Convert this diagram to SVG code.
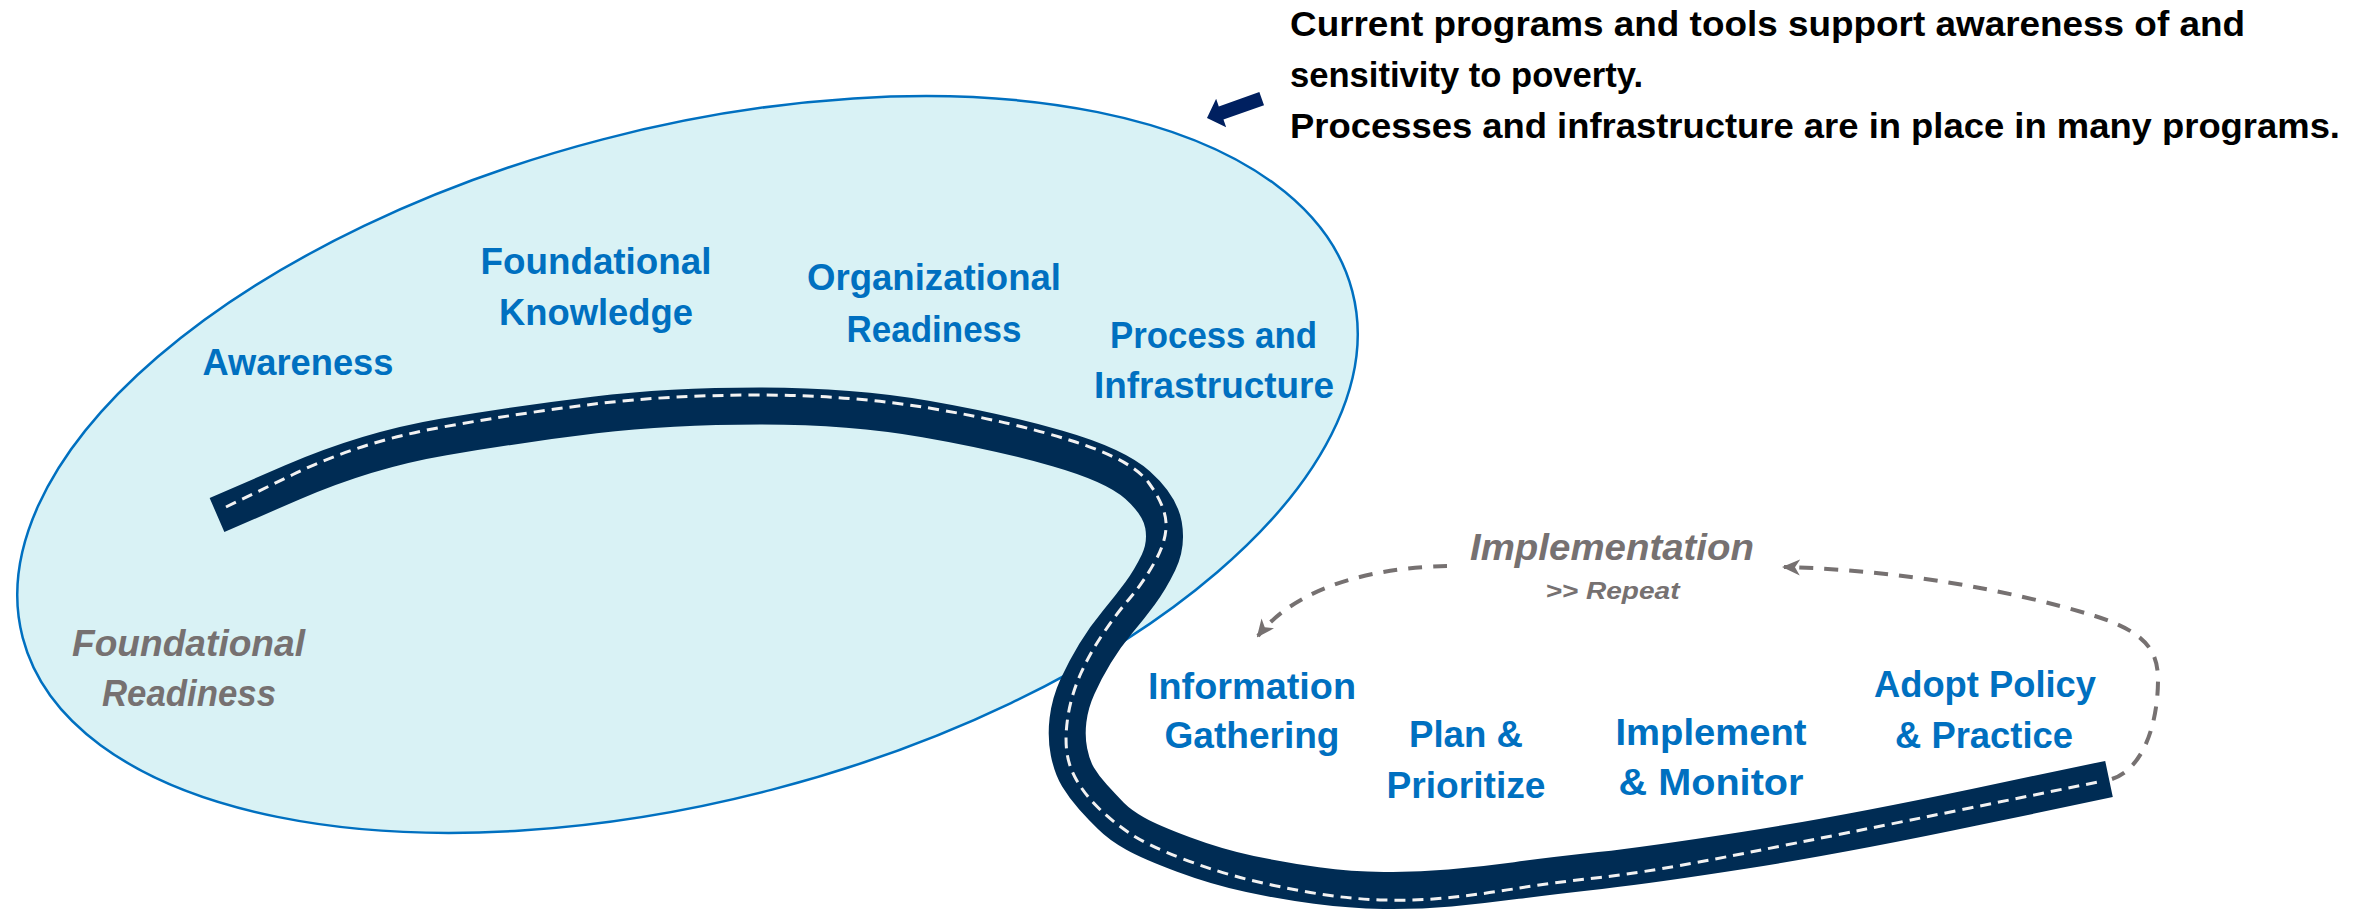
<svg xmlns="http://www.w3.org/2000/svg" width="2369" height="912" viewBox="0 0 2369 912">
<style>
.lbl{font-family:"Liberation Sans",Arial,sans-serif;font-weight:bold;font-size:36px;fill:#0070C0;text-anchor:middle}
.gry{font-family:"Liberation Sans",Arial,sans-serif;font-weight:bold;font-style:italic;font-size:36px;fill:#767171;text-anchor:middle}
.note{font-family:"Liberation Sans",Arial,sans-serif;font-weight:bold;font-size:35px;fill:#000000}
.loop{fill:none;stroke:#767171;stroke-width:4;stroke-dasharray:14 11}
</style>
<defs>
<marker id="ah" viewBox="0 0 18 18" refX="16" refY="9" markerWidth="18" markerHeight="18" markerUnits="userSpaceOnUse" orient="auto">
<path d="M0,1 L18,9 L0,17 L5,9 z" fill="#767171"/>
</marker>
</defs>
<rect width="2369" height="912" fill="#FFFFFF"/>

<g id="foundational-readiness-zone">
<ellipse cx="687.5" cy="464.5" rx="687" ry="336" transform="rotate(-14.6 687.5 464.5)" fill="#D9F2F5" stroke="#0070C0" stroke-width="2.5"/>
</g>

<g id="road">
<path d="M217,515 L292,482.5 Q367,450 443.5,437 Q520,424 594.5,415 Q669,406 760,406 Q851,406 925.5,419 Q1000,432 1057.5,448.5 Q1115,465 1137.5,485 Q1160,505 1163.5,525 Q1167,545 1158.5,562.5 Q1150,580 1140,593.5 Q1130,607 1117.5,622 Q1105,637 1095,653.5 Q1085,670 1077.5,686.5 Q1070,703 1068,720 Q1066,737 1069,752 Q1072,767 1078,777 Q1084,787 1093,797 Q1102,807 1111,816 Q1120,825 1135,833.5 Q1150,842 1183.5,854.5 Q1217,867 1250,874 Q1283,881 1316.5,885.5 Q1350,890 1383.5,890.5 Q1417,891 1450,888 Q1483,885 1516.5,880.5 Q1550,876 1600,870.5 Q1650,865 1746,850 Q1842,835 1975.5,807 L2109,779" fill="none" stroke="#002C54" stroke-width="37" stroke-linejoin="round" stroke-linecap="butt"/>
<path d="M226,507 L293,474.5 Q360,442 440,427.5 Q520,413 594.5,404 Q669,395 760,395 Q851,395 932,408.5 Q1013,422 1072.5,441 Q1132,460 1148.5,482.5 Q1165,505 1166,522.5 Q1167,540 1155,561.5 Q1143,583 1130,598 Q1117,613 1103.5,633 Q1090,653 1081,673 Q1072,693 1068.5,713 Q1065,733 1066.5,749 Q1068,765 1076.5,780 Q1085,795 1099,808.5 Q1113,822 1130,833.5 Q1147,845 1182,858.5 Q1217,872 1250,880 Q1283,888 1316.5,893.5 Q1350,899 1383.5,900 Q1417,901 1450,897.5 Q1483,894 1516.5,888.5 Q1550,883 1600,877.5 Q1650,872 1746,853 Q1842,834 1970,808 L2098,782" fill="none" stroke="#F2F2F2" stroke-width="3" stroke-dasharray="11 7"/>
</g>

<g id="connectors">
<path class="loop" d="M1447,566 C1385,567 1300,582 1258,636" marker-end="url(#ah)"/>
<path class="loop" d="M2112,779 C2145,768 2158,720 2158,680 C2158,650 2145,632 2095,616 C2010,590 1900,570 1784,567" marker-end="url(#ah)"/>
<polygon id="pointer-arrow" points="0,0 -15,-15 -15,-7 -58,-7 -58,7 -15,7 -15,15" transform="translate(1207,118) rotate(160.5)" fill="#002060"/>
</g>

<g id="note">
<text class="note" x="1290" y="36" textLength="955" lengthAdjust="spacingAndGlyphs">Current programs and tools support awareness of and</text>
<text class="note" x="1290" y="87" textLength="353" lengthAdjust="spacingAndGlyphs">sensitivity to poverty.</text>
<text class="note" x="1290" y="138" textLength="1050" lengthAdjust="spacingAndGlyphs">Processes and infrastructure are in place in many programs.</text>
</g>

<g id="node-awareness">
<text class="lbl" x="298" y="375" textLength="191" lengthAdjust="spacingAndGlyphs">Awareness</text>
</g>
<g id="node-foundational-knowledge">
<text class="lbl" x="596" y="274" textLength="231" lengthAdjust="spacingAndGlyphs">Foundational</text>
<text class="lbl" x="596" y="325" textLength="194" lengthAdjust="spacingAndGlyphs">Knowledge</text>
</g>
<g id="node-organizational-readiness">
<text class="lbl" x="934" y="290" textLength="254" lengthAdjust="spacingAndGlyphs">Organizational</text>
<text class="lbl" x="934" y="342" textLength="175" lengthAdjust="spacingAndGlyphs">Readiness</text>
</g>
<g id="node-process-infrastructure">
<text class="lbl" x="1213.5" y="348" textLength="207" lengthAdjust="spacingAndGlyphs">Process and</text>
<text class="lbl" x="1214" y="398" textLength="240" lengthAdjust="spacingAndGlyphs">Infrastructure</text>
</g>
<g id="label-foundational-readiness">
<text class="gry" x="188.5" y="656" textLength="233" lengthAdjust="spacingAndGlyphs">Foundational</text>
<text class="gry" x="189" y="706" textLength="174" lengthAdjust="spacingAndGlyphs">Readiness</text>
</g>
<g id="label-implementation">
<text class="gry" x="1612" y="560" textLength="284" lengthAdjust="spacingAndGlyphs">Implementation</text>
<text class="gry" x="1612.5" y="599" style="font-size:23px" textLength="134" lengthAdjust="spacingAndGlyphs">&gt;&gt; Repeat</text>
</g>
<g id="node-information-gathering">
<text class="lbl" x="1252" y="699" textLength="208" lengthAdjust="spacingAndGlyphs">Information</text>
<text class="lbl" x="1252" y="748" textLength="175" lengthAdjust="spacingAndGlyphs">Gathering</text>
</g>
<g id="node-plan-prioritize">
<text class="lbl" x="1466" y="747" textLength="114" lengthAdjust="spacingAndGlyphs">Plan &amp;</text>
<text class="lbl" x="1466" y="798" textLength="159" lengthAdjust="spacingAndGlyphs">Prioritize</text>
</g>
<g id="node-implement-monitor">
<text class="lbl" x="1711" y="745" textLength="191" lengthAdjust="spacingAndGlyphs">Implement</text>
<text class="lbl" x="1711" y="795" textLength="185" lengthAdjust="spacingAndGlyphs">&amp; Monitor</text>
</g>
<g id="node-adopt-policy">
<text class="lbl" x="1985" y="697" textLength="222" lengthAdjust="spacingAndGlyphs">Adopt Policy</text>
<text class="lbl" x="1984" y="748" textLength="178" lengthAdjust="spacingAndGlyphs">&amp; Practice</text>
</g>
</svg>
